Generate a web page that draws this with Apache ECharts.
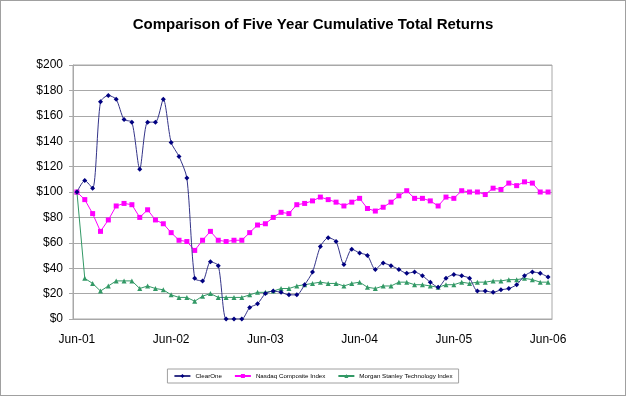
<!DOCTYPE html>
<html>
<head>
<meta charset="utf-8">
<script src="https://cdn.jsdelivr.net/npm/echarts@6/dist/echarts.min.js"></script>
<style>
  html, body { margin: 0; padding: 0; background: #fff; }
  #chart { width: 626px; height: 396px; box-sizing: border-box; border: 1px solid #a0a0a0; }
</style>
</head>
<body>
<div id="chart"></div>
<script>
// month labels Jun-01 .. Jun-06
var monthNames = ["Jan","Feb","Mar","Apr","May","Jun","Jul","Aug","Sep","Oct","Nov","Dec"];
var months = [];
for (var k = 0; k < 61; k++) {
  var m = (5 + k) % 12;
  var y = 1 + Math.floor((5 + k) / 12);
  months.push(monthNames[m] + "-" + (y < 10 ? "0" + y : y));
}

var clearOne = [
  100, 109, 103, 171, 176, 173, 157, 155, 118, 155, 155, 173,
  139, 128, 111, 32, 30, 45, 42, 0, 0, 0, 9, 12,
  20, 22, 21, 19, 19, 27, 37, 57, 64, 61, 43, 55,
  52, 50, 39, 44, 42, 39, 36, 37, 34, 29, 25, 32,
  35, 34, 32, 22, 22, 21, 23, 24, 27, 34, 37, 36, 33
];
var nasdaq = [
  100, 94, 83, 69, 78, 89, 91, 90, 80, 86, 78, 75,
  68, 62, 61, 54, 62, 69, 62, 61, 62, 62, 68, 74,
  75, 80, 84, 83, 90, 91, 93, 96, 94, 92, 89, 92,
  95, 87, 85, 88, 92, 97, 101, 95, 95, 93, 89, 96,
  95, 101, 100, 100, 98, 103, 102, 107, 105, 108, 107, 100, 100
];
var morgan = [
  100, 32, 28, 22, 26, 30, 30, 30, 24, 26, 24, 23,
  19, 17, 17, 14, 18, 20, 17, 17, 17, 17, 19, 21,
  21, 22, 24, 24, 26, 27, 28, 29, 28, 28, 26, 28,
  29, 25, 24, 26, 26, 29, 29, 27, 27, 26, 25, 27,
  27, 29, 28, 29, 29, 30, 30, 31, 31, 32, 31, 29, 29
];
var yTicks = [0, 20, 40, 60, 80, 100, 120, 140, 160, 180, 200];

var chart = echarts.init(document.getElementById("chart"), null, { renderer: "canvas" });
var font = "Liberation Sans, Arial, sans-serif";

chart.setOption({
  backgroundColor: "#fff",
  animation: false,
  title: {
    text: "Comparison of Five Year Cumulative Total Returns",
    left: "center",
    top: 11,
    textStyle: { fontFamily: font, fontSize: 15, fontWeight: "bold", color: "#000" }
  },
  legend: {
    left: "center",
    top: 368,
    orient: "horizontal",
    borderColor: "#a0a0a0",
    borderWidth: 1,
    padding: [4, 6],
    itemWidth: 16,
    itemHeight: 5,
    itemGap: 12,
    textStyle: { fontFamily: font, fontSize: 6.2, color: "#000" },
    data: ["ClearOne", "Nasdaq Composite Index", "Morgan Stanley Technology Index"]
  },
  grid: {
    left: 72,
    right: 73,
    top: 64,
    bottom: 76,
    show: true,
    borderColor: "#a8a8a8",
    borderWidth: 1
  },
  xAxis: {
    type: "category",
    data: months,
    boundaryGap: true,
    axisLine: { lineStyle: { color: "#a8a8a8" } },
    axisTick: { interval: 11, length: 4, lineStyle: { color: "#a8a8a8" } },
    axisLabel: { interval: 11, margin: 15, fontFamily: font, fontSize: 12, color: "#000" },
    splitLine: { show: false }
  },
  yAxis: {
    type: "value",
    min: yTicks[0],
    max: yTicks[yTicks.length - 1],
    interval: 20,
    axisLine: { show: true, lineStyle: { color: "#a8a8a8" } },
    axisTick: { show: true, length: 4, lineStyle: { color: "#a8a8a8" } },
    axisLabel: {
      margin: 10,
      fontFamily: font,
      fontSize: 12,
      color: "#000",
      formatter: function (v) { return "$" + v; }
    },
    splitLine: { lineStyle: { color: "#a8a8a8", width: 1 } }
  },
  series: [
    {
      name: "ClearOne",
      type: "line",
      data: clearOne,
      smooth: 0.25,
      showAllSymbol: true,
      symbol: "diamond",
      symbolSize: 5,
      color: "#000080",
      lineStyle: { color: "#333388", width: 1 },
      itemStyle: { color: "#000080" },
      z: 4
    },
    {
      name: "Nasdaq Composite Index",
      type: "line",
      data: nasdaq,
      showAllSymbol: true,
      symbol: "rect",
      symbolSize: 5,
      color: "#ff00ff",
      lineStyle: { color: "#ff00ff", width: 1 },
      itemStyle: { color: "#ff00ff" },
      z: 3
    },
    {
      name: "Morgan Stanley Technology Index",
      type: "line",
      data: morgan,
      showAllSymbol: true,
      symbol: "triangle",
      symbolSize: 5,
      color: "#339966",
      lineStyle: { color: "#339966", width: 1 },
      itemStyle: { color: "#339966" },
      z: 2
    }
  ]
});
</script>
</body>
</html>
